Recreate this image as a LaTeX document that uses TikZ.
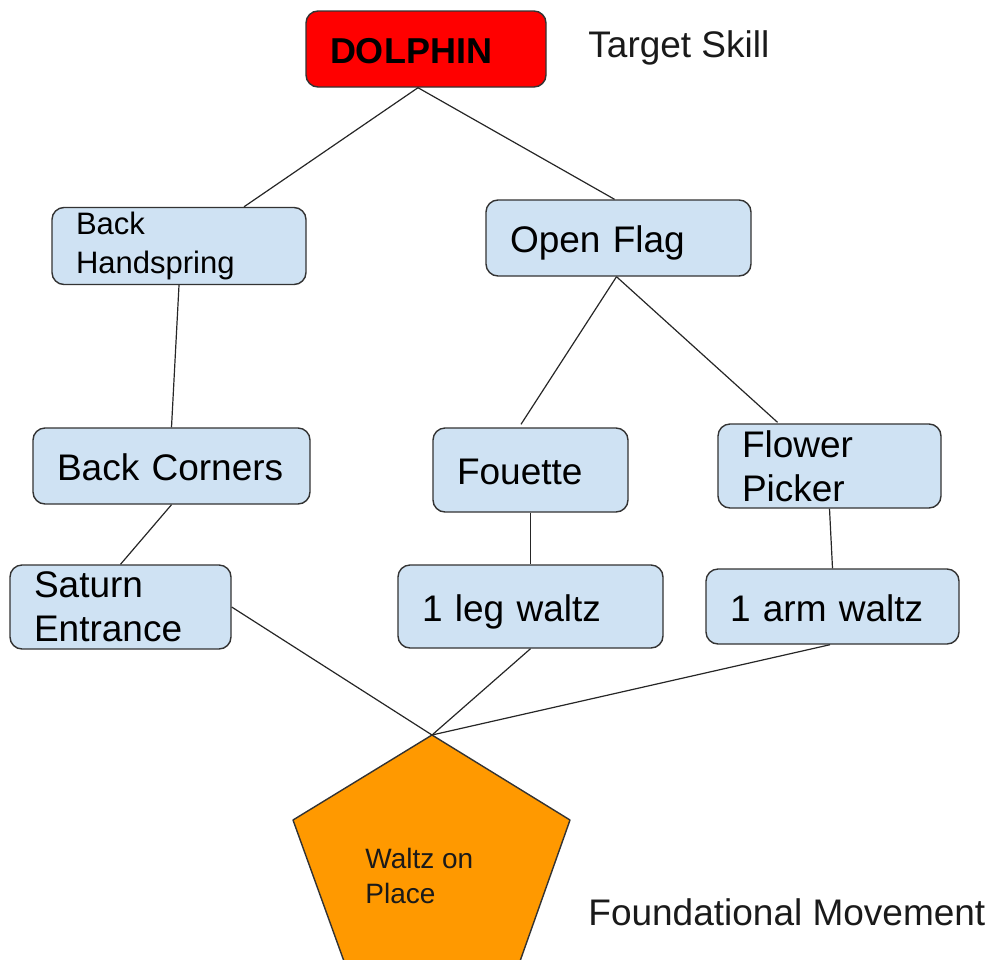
\documentclass[tikz,border=0pt]{standalone}
\usepackage{fontspec}
\setmainfont{Liberation Sans}
\usepackage{tikz}
\usepackage{xcolor}
\usetikzlibrary{positioning}
\tikzset{%
  box/.style={rectangle,rounded corners=6pt,draw=edgegray,line width=0.7pt,fill=skyblue,
    inner xsep=12pt,inner ysep=0pt,align=left,font=\fontsize{18.5}{22}\selectfont},
  oneline/.style={text height=18.5pt,text depth=4pt},
  link/.style={draw=linegray,line width=0.6pt},
  note/.style={anchor=west,inner sep=0pt,text=textgray,font=\fontsize{18.5}{22}\selectfont},
}
\definecolor{skyblue}{HTML}{CFE2F3}
\definecolor{edgegray}{HTML}{333333}
\definecolor{linegray}{HTML}{262626}
\definecolor{textgray}{HTML}{1A1A1A}
\definecolor{target}{HTML}{FF0000}
\definecolor{basecolor}{HTML}{FF9900}

\begin{document}
\begin{tikzpicture}[x=0.5pt,y=-0.5pt]
      \useasboundingbox (0,0) rectangle (995,959);

      % target skill
      \node[box,oneline,fill=target,text width=96pt,minimum height=38pt,font=\fontsize{18}{22}\selectfont\bfseries] (dolphin) at (426,49) {DOLPHIN};
      \node[note] (target_note) at (588,48) {Target Skill};

      % second row
      \node[box,text width=103pt,minimum height=38.5pt,font=\fontsize{15.5}{19.5}\selectfont] (handspring) at (179,246) {Back\\Handspring};
      \node[box,oneline,text width=108.5pt,minimum height=38pt] (open_flag) at (618.5,238) {Open Flag};

      % third row
      \node[box,oneline,text width=114.5pt,minimum height=38pt] (corners) at (171.5,466) {Back Corners};
      \node[box,oneline,text width=73.5pt,minimum height=42pt] (fouette) at (530.5,470) {Fouette};
      \node[box,text width=87.5pt,minimum height=42pt] (flower) at (829.5,466) {Flower\\Picker};

      % fourth row
      \node[box,text width=86.5pt,minimum height=42pt] (saturn) at (120.5,607) {Saturn\\Entrance};
      \node[box,oneline,text width=108.5pt,minimum height=41.5pt] (leg_waltz) at (530.5,606.5) {1 leg waltz};
      \node[box,oneline,text width=102.5pt,minimum height=37.5pt] (arm_waltz) at (832.5,606.5) {1 arm waltz};

      % foundational movement
      \coordinate (peak) at (432,735);
      \draw[fill=basecolor,draw=edgegray,line width=0.7pt,line join=round]
        (peak) -- (570,820) -- (519,964) -- (345,964) -- (293,820) -- cycle;
      \node[anchor=west,inner sep=0pt,align=left,text=textgray,font=\fontsize{14}{17.5}\selectfont] (waltz) at (365,876) {Waltz on\\Place};
      \node[note] (base_note) at (588,912) {Foundational Movement};

      \draw[link] ([xshift=-4pt]dolphin.south) -- ([xshift=32.5pt]handspring.north);
      \draw[link] ([xshift=-4pt]dolphin.south) -- ([xshift=-2pt]open_flag.north);

      \draw[link] (handspring.south) -- (corners.north);
      \draw[link] (corners.south) -- (saturn.north);

      \draw[link] ([xshift=-1pt]open_flag.south) -- ([xshift=-4.75pt,yshift=1.5pt]fouette.north);
      \draw[link] ([xshift=-1pt]open_flag.south) -- ([xshift=-26pt,yshift=0.5pt]flower.north);

      \draw[link] (fouette.south) -- (leg_waltz.north);
      \draw[link] (flower.south) -- (arm_waltz.north);

      \draw[link] (saturn.east) -- (peak);
      \draw[link] (leg_waltz.south) -- (peak);
      \draw[link] ([xshift=-1.25pt]arm_waltz.south) -- (peak);
    \end{tikzpicture}
\end{document}
